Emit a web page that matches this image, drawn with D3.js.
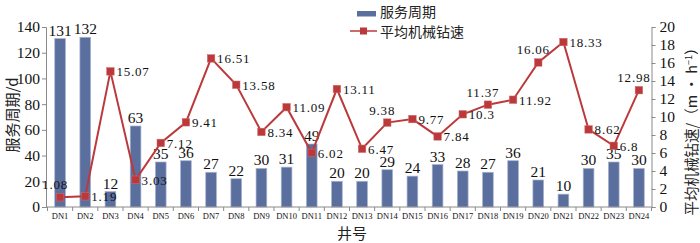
<!DOCTYPE html>
<html><head><meta charset="utf-8">
<script src="https://cdn.jsdelivr.net/npm/d3@7"></script>
<style>
html,body{margin:0;padding:0;background:#fff;}
svg{display:block;}
</style></head>
<body>
<svg id="c" width="700" height="243"></svg>
<script>
const wells = ["DN1","DN2","DN3","DN4","DN5","DN6","DN7","DN8","DN9","DN10","DN11","DN12","DN13","DN14","DN15","DN16","DN17","DN18","DN19","DN20","DN21","DN22","DN23","DN24"];
const servicePeriod = [131,132,12,63,35,36,27,22,30,31,49,20,20,29,24,33,28,27,36,21,10,30,35,30];
const drillSpeed = [1.08,1.19,15.07,3.03,7.12,9.41,16.51,13.58,8.34,11.09,6.02,13.11,6.47,9.38,9.77,7.84,10.3,11.37,11.92,16.06,18.33,8.62,6.8,12.98];
const speedLabelPos = ["top","right","right","right","right","right","right","right","right","right","right","right","right","top","right","right","right","top","right","top","right","right","right","top"];
const leftTicks = [0,20,40,60,80,100,120,140];
const rightTicks = [0,2,4,6,8,10,12,14,16,18,20];
const legendNames = ["服务周期","平均机械钻速"];
const titles = {left:"服务周期/d", x:"井号"};

const svg = d3.select("#c");
const serif = "'Liberation Serif','Times New Roman',serif";
const cjk = "'Noto Sans CJK SC','Noto Sans CJK JP',sans-serif";
const barColor = "#5b6f9f", lineColor = "#bc393b", axisColor = "#8a8a8a";

const x = d3.scaleBand().domain(wells).range([47.5, 651.5]).padding(0);
const yL = d3.scaleLinear().domain([0,140]).range([207, 27]);
const yR = d3.scaleLinear().domain([0,20]).range([207, 27]);
const bw = x.bandwidth()*0.425;

// bars
svg.append("g").selectAll("rect").data(wells).join("rect")
  .attr("x", (d,i)=>x(d)+x.bandwidth()/2-bw/2)
  .attr("y", (d,i)=>yL(servicePeriod[i]))
  .attr("width", bw)
  .attr("height", (d,i)=>yL(0)-yL(servicePeriod[i]))
  .attr("fill", barColor).attr("stroke","#a7b3cf").attr("stroke-width",0.7);

// axes
const gL = svg.append("g").attr("transform","translate(46,0)")
  .call(d3.axisLeft(yL).tickValues(leftTicks).tickSize(4).tickPadding(2));
const gR = svg.append("g").attr("transform","translate(651.5,0)")
  .call(d3.axisRight(yR).tickValues(rightTicks).tickSize(4).tickPadding(4));
[gL,gR].forEach(g=>{
  g.selectAll("path,line").attr("stroke",axisColor);
  g.selectAll("text").attr("font-family",serif).attr("font-size",15.5).attr("fill","#111");
});
const gX = svg.append("g").attr("transform","translate(0,207)")
  .call(d3.axisBottom(x).tickSize(0).tickPadding(6));
gX.select("path").attr("stroke",axisColor).attr("d","M46,0H651.5");
gX.selectAll("text").attr("font-family",serif).attr("font-size",8.5).attr("fill","#111");
// category separator ticks
svg.append("g").selectAll("line").data(wells.concat(["_end"])).join("line")
  .attr("x1",(d,i)=> i<wells.length ? x(d) : x(wells[wells.length-1])+x.bandwidth())
  .attr("x2",(d,i)=> i<wells.length ? x(d) : x(wells[wells.length-1])+x.bandwidth())
  .attr("y1",207).attr("y2",211).attr("stroke",axisColor);

// bar labels
svg.append("g").selectAll("text").data(wells).join("text")
  .attr("x",d=>x(d)+x.bandwidth()/2)
  .attr("y",(d,i)=>yL(servicePeriod[i])-3)
  .attr("text-anchor","middle")
  .attr("font-family",serif).attr("font-size",15.5).attr("fill","#111")
  .text((d,i)=>servicePeriod[i]);

// line
const line = d3.line().x((d,i)=>x(wells[i])+x.bandwidth()/2).y(d=>yR(d));
svg.append("path").datum(drillSpeed).attr("d",line)
  .attr("fill","none").attr("stroke",lineColor).attr("stroke-width",2);
const ms = 7.5;
svg.append("g").selectAll("rect").data(drillSpeed).join("rect")
  .attr("x",(d,i)=>x(wells[i])+x.bandwidth()/2-ms/2)
  .attr("y",d=>yR(d)-ms/2)
  .attr("width",ms).attr("height",ms)
  .attr("fill",lineColor).attr("stroke","#d06a6a").attr("stroke-width",0.5);

// line labels
svg.append("g").selectAll("text").data(drillSpeed).join("text")
  .attr("x",(d,i)=>{const cx=x(wells[i])+x.bandwidth()/2; return speedLabelPos[i]==="top"? cx-5 : cx+6;})
  .attr("y",(d,i)=> speedLabelPos[i]==="top"? yR(d)-8 : yR(d)+5)
  .attr("text-anchor",(d,i)=>speedLabelPos[i]==="top"?"middle":"start")
  .attr("font-family",serif).attr("font-size",13).attr("letter-spacing",0.8).attr("fill","#111")
  .text(d=>d);

// axis titles
svg.append("text").attr("transform","translate(18,115) rotate(-90)")
  .attr("text-anchor","middle").attr("font-family",cjk).attr("font-size",15).attr("fill","#222")
  .text(titles.left);
const rt = svg.append("text").attr("transform","translate(697,128) rotate(-90)")
  .attr("text-anchor","middle").attr("font-family",cjk).attr("font-size",14.5).attr("fill","#222");
rt.append("tspan").text("平均机械钻速/（m · h");
rt.append("tspan").attr("dy",-5).attr("font-size",9).text("−1");
rt.append("tspan").attr("dy",5).text("）");
svg.append("text").attr("x",352).attr("y",239).attr("text-anchor","middle")
  .attr("font-family",cjk).attr("font-size",15).attr("fill","#222").text(titles.x);

// legend
const lg = svg.append("g");
lg.append("rect").attr("x",357).attr("y",11).attr("width",19).attr("height",5.5).attr("fill",barColor);
lg.append("text").attr("x",380).attr("y",16.5)
  .attr("font-family",cjk).attr("font-size",14).attr("fill","#222").text(legendNames[0]);
lg.append("line").attr("x1",350).attr("x2",377).attr("y1",31).attr("y2",31).attr("stroke",lineColor).attr("stroke-width",1.5);
lg.append("rect").attr("x",360).attr("y",27.5).attr("width",7).attr("height",7).attr("fill",lineColor);
lg.append("text").attr("x",380).attr("y",37)
  .attr("font-family",cjk).attr("font-size",14).attr("fill","#222").text(legendNames[1]);
</script>
</body></html>
